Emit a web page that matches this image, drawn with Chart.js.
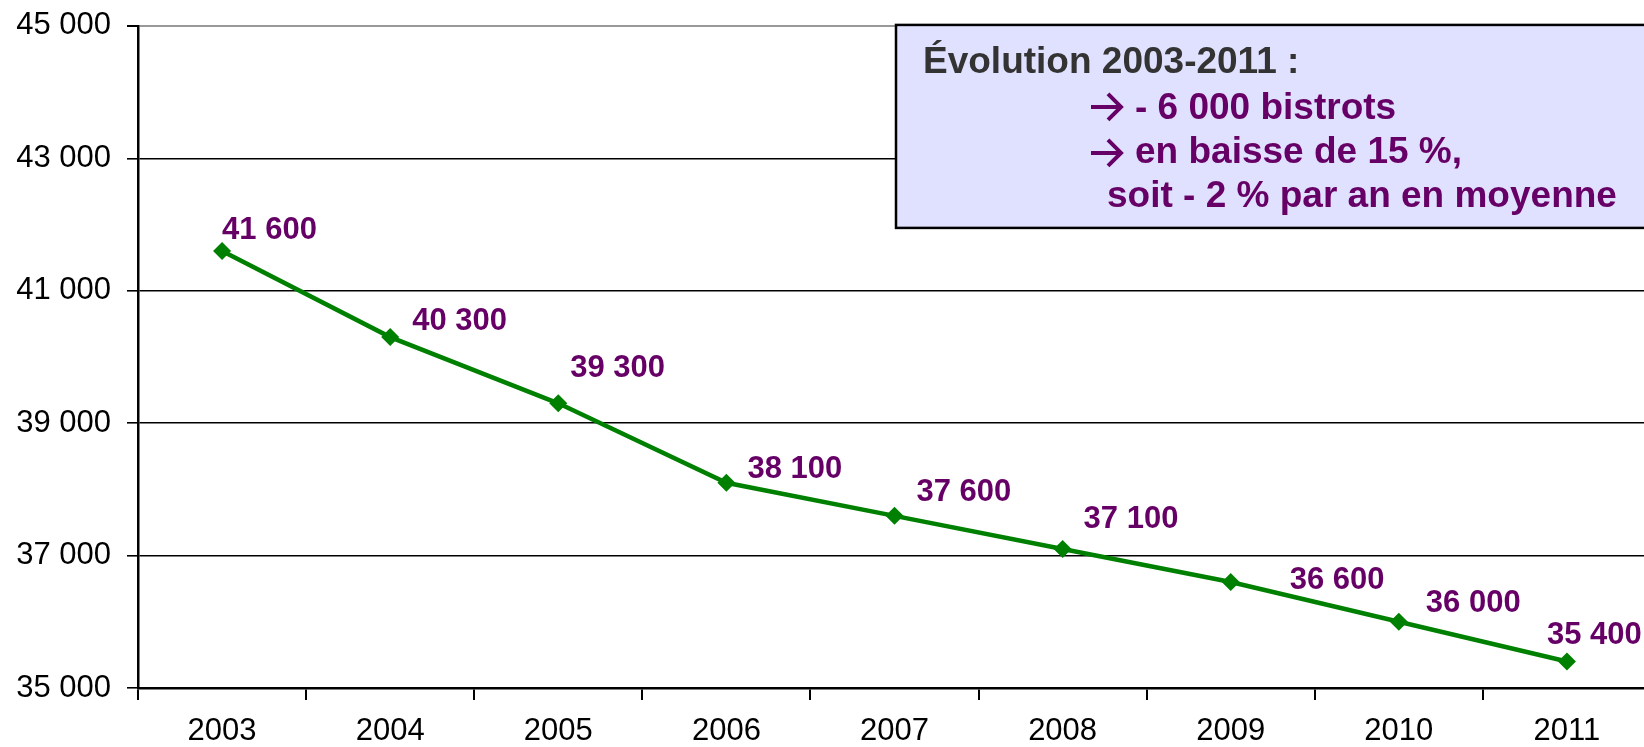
<!DOCTYPE html>
<html lang="fr">
  <head>
    <meta charset="UTF-8" />
    <title>Nombre de bistrots 2003-2011</title>
    <script src="https://cdn.jsdelivr.net/npm/chart.js@4.4.0/dist/chart.umd.min.js"></script>
    <style>
      html, body {
        margin: 0;
        padding: 0;
        overflow: hidden;
        background: #fff;
      }
      #wrap {
        width: 1660px;
        height: 747px;
        position: relative;
      }
    </style>
  </head>
  <body>
    <div id="wrap"><canvas id="myChart"></canvas></div>
    <script>
      const years = ["2003", "2004", "2005", "2006", "2007", "2008", "2009", "2010", "2011"];
      const bistrots = [41600, 40300, 39300, 38100, 37600, 37100, 36600, 36000, 35400];
      const yTicks = [35000, 37000, 39000, 41000, 43000, 45000];

      const boxTitle = "Évolution 2003-2011 :";
      const boxLines = ["- 6 000 bistrots", "en baisse de 15 %,", "soit - 2 % par an en moyenne"];

      // where each value label sits relative to its point (px)
      const labelShift = [
        [0, -21], [22, -16], [12, -35], [21, -13], [22, -23],
        [21, -30], [59, -2], [27, -18], [-20, -26]
      ];

      const FONT = "'Liberation Sans', Arial, sans-serif";

      function fmt(v) {
        return String(v).replace(/\B(?=(\d{3})+(?!\d))/g, " ");
      }

      function arrow(ctx, x, y) {
        ctx.beginPath();
        ctx.moveTo(x, y);
        ctx.lineTo(x + 29, y);
        ctx.moveTo(x + 17, y - 13);
        ctx.lineTo(x + 30, y);
        ctx.lineTo(x + 17, y + 13);
        ctx.stroke();
      }

      const valueLabels = {
        id: "valueLabels",
        afterDatasetsDraw(chart) {
          const ctx = chart.ctx;
          const ca = chart.chartArea;

          // text box
          const bx = ca.left + 758, by = ca.top - 1;
          ctx.save();
          ctx.fillStyle = "#E0E0FF";
          ctx.fillRect(bx, by, 1000, 203);
          ctx.strokeStyle = "#000";
          ctx.lineWidth = 2.5;
          ctx.strokeRect(bx, by, 1000, 203);
          ctx.textBaseline = "middle";
          ctx.textAlign = "left";
          ctx.font = "bold 37px " + FONT;
          ctx.fillStyle = "#333333";
          ctx.fillText(boxTitle, bx + 27, by + 38);
          ctx.fillStyle = "#660066";
          ctx.strokeStyle = "#660066";
          ctx.lineWidth = 4;
          arrow(ctx, bx + 195, by + 82);
          arrow(ctx, bx + 195, by + 128);
          ctx.fillText(boxLines[0], bx + 239, by + 84);
          ctx.fillText(boxLines[1], bx + 239, by + 128);
          ctx.fillText(boxLines[2], bx + 211, by + 172);
          ctx.restore();

          // point labels
          const meta = chart.getDatasetMeta(0);
          ctx.save();
          ctx.font = "bold 31px " + FONT;
          ctx.fillStyle = "#660066";
          ctx.textAlign = "left";
          ctx.textBaseline = "middle";
          meta.data.forEach((pt, i) => {
            ctx.fillText(fmt(bistrots[i]), pt.x + labelShift[i][0], pt.y + labelShift[i][1]);
          });
          ctx.restore();
        }
      };

      const ctx = document.getElementById("myChart").getContext("2d");
      const chart = new Chart(ctx, {
        type: "line",
        data: {
          labels: years,
          datasets: [
            {
              label: "Bistrots",
              data: bistrots,
              borderColor: "#008000",
              backgroundColor: "#008000",
              borderWidth: 4.5,
              pointStyle: "rectRot",
              pointRadius: 9,
              pointHoverRadius: 9,
              pointBorderWidth: 0,
              tension: 0,
              fill: false
            }
          ]
        },
        plugins: [valueLabels],
        options: {
          responsive: true,
          maintainAspectRatio: false,
          animation: false,
          events: [],
          layout: { padding: { left: 0, top: 0, right: 8, bottom: 0 } },
          plugins: {
            legend: { display: false },
            tooltip: { enabled: false }
          },
          scales: {
            x: {
              type: "category",
              offset: true,
              grid: {
                offset: true,
                drawOnChartArea: false,
                drawTicks: true,
                tickLength: 12,
                color: "#000",
                lineWidth: 2
              },
              border: { display: true, color: "#000", width: 2.5 },
              ticks: {
                color: "#000",
                font: { family: FONT, size: 31 },
                padding: 13,
                maxRotation: 0
              },
              afterFit(scale) {
                scale.height = 59;
              }
            },
            y: {
              min: 35000,
              max: 45000,
              afterBuildTicks(scale) {
                scale.ticks = yTicks.map(v => ({ value: v }));
              },
              grid: {
                color: c => (c.tick && c.tick.value === 45000 ? "#999" : "#000"),
                lineWidth: c => (c.tick && c.tick.value === 45000 ? 2 : 1.6),
                tickColor: "#000",
                tickLength: 11,
                drawTicks: true
              },
              border: { display: true, color: "#000", width: 2.5 },
              ticks: {
                color: "#000",
                font: { family: FONT, size: 31, lineHeight: 0.64 },
                padding: 16,
                callback: v => fmt(v)
              },
              afterFit(scale) {
                scale.width = 138;
              }
            }
          }
        }
      });
    </script>
  </body>
</html>
